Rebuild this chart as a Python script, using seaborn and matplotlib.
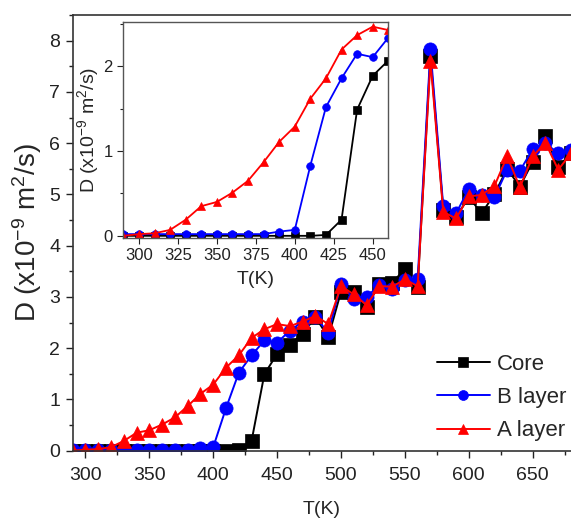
import numpy as np
import pandas as pd
import matplotlib
matplotlib.use("Agg")
import matplotlib.pyplot as plt
from matplotlib.ticker import MultipleLocator
import seaborn as sns

# ---- data ----
T = [290, 300, 310, 320, 330, 340, 350, 360, 370, 380, 390, 400, 410, 420, 430,
     440, 450, 460, 470, 480, 490, 500, 510, 520, 530, 540, 550, 560, 570, 580,
     590, 600, 610, 620, 630, 640, 650, 660, 670, 680]
core = [0, 0, 0, 0, 0, 0, 0, 0, 0, 0, 0, 0, 0, 0.01, 0.19, 1.49, 1.89, 2.07,
        2.28, 2.61, 2.21, 3.10, 3.10, 2.80, 3.25, 3.28, 3.54, 3.20, 7.70, 4.70,
        4.55, 4.95, 4.63, 5.00, 5.50, 5.15, 5.64, 6.13, 5.54, 5.80]
b_layer = [0.02, 0.02, 0.02, 0.02, 0.02, 0.02, 0.02, 0.02, 0.02, 0.02, 0.05, 0.07,
           0.83, 1.52, 1.86, 2.15, 2.11, 2.34,
           2.52, 2.61, 2.30, 3.25, 2.95, 3.00, 3.23, 3.15, 3.33, 3.35, 7.83, 4.77,
           4.63, 5.10, 4.99, 4.94, 5.48, 5.46, 5.88, 6.00, 5.80, 5.87]
a_layer = [0.0, 0.02, 0.03, 0.07, 0.19, 0.35, 0.40, 0.51, 0.65, 0.87, 1.11, 1.29,
           1.62, 1.86, 2.20, 2.37, 2.47, 2.43,
           2.52, 2.63, 2.47, 3.21, 3.05, 2.84, 3.21, 3.20, 3.34, 3.21, 7.60, 4.66,
           4.53, 4.96, 4.99, 5.16, 5.74, 5.14, 5.74, 6.01, 5.48, 5.80]
series_names = ["Core", "B layer", "A layer"]
series_vals = [core, b_layer, a_layer]
colors = ["#000000", "#0000ff", "#ff0000"]
markers = ["s", "o", "^"]
inset_max_T = 460

sns.set_style("ticks")
plt.rcParams["font.family"] = ["Liberation Sans", "DejaVu Sans"]
plt.rcParams["mathtext.fontset"] = "custom"
plt.rcParams["mathtext.rm"] = "Liberation Sans"
plt.rcParams["mathtext.it"] = "Liberation Sans:italic"

fig = plt.figure(figsize=(5.71, 5.22), dpi=100)
ax = fig.add_axes([0.1273, 0.1366, 0.8727, 0.8347])

ylab = r"D (x10$^{-9}$ m$^{2}$/s)"

for name, vals, c, m in zip(series_names, series_vals, colors, markers):
    df = pd.DataFrame({"T": T, "D": vals})
    sns.lineplot(data=df, x="T", y="D", ax=ax, color=c, marker=m, markersize=9.5,
                 markeredgecolor=c, markeredgewidth=0.5, linewidth=1.4, label=name)

ax.set_xlim(290, 680)
ax.set_ylim(0, 8.5)
ax.xaxis.set_major_locator(MultipleLocator(50))
ax.xaxis.set_minor_locator(MultipleLocator(25))
ax.yaxis.set_major_locator(MultipleLocator(1))
ax.yaxis.set_minor_locator(MultipleLocator(0.5))
ax.tick_params(axis="both", which="major", labelsize=14, length=5, width=1, colors="#222222")
ax.tick_params(axis="x", which="major", pad=7)
ax.tick_params(axis="y", which="major", pad=4)
ax.tick_params(axis="both", which="minor", length=3, width=1, colors="#222222")
ax.spines["right"].set_visible(False)
for s in ["left", "bottom", "top"]:
    ax.spines[s].set_color("#333333")
    ax.spines[s].set_linewidth(1.2)
ax.set_xlabel("T(K)", fontsize=14, labelpad=12)
ax.set_ylabel(ylab, fontsize=20, labelpad=4)

leg = ax.legend(loc="upper left", bbox_to_anchor=(0.765, 0.322),
                bbox_transform=fig.transFigure, frameon=False, fontsize=16,
                handlelength=2.4, handletextpad=0.3, labelspacing=0.55,
                borderpad=0, borderaxespad=0, markerscale=0.75)

# ---- inset ----
ins = fig.add_axes([0.216, 0.545, 0.464, 0.412])
for name, vals, c, m in zip(series_names, series_vals, colors, markers):
    df = pd.DataFrame({"T": T, "D": vals})
    df = df[df["T"] <= inset_max_T]
    sns.lineplot(data=df, x="T", y="D", ax=ins, color=c, marker=m, markersize=5.5,
                 markeredgecolor=c, markeredgewidth=0.5, linewidth=1.3, legend=False)
ins.set_xlim(290, 460)
ins.set_ylim(-0.02, 2.52)
ins.xaxis.set_major_locator(MultipleLocator(25))
ins.yaxis.set_major_locator(MultipleLocator(1))
ins.yaxis.set_minor_locator(MultipleLocator(0.5))
ins.tick_params(axis="both", which="major", labelsize=12, length=4, width=0.8, colors="#222222")
ins.tick_params(axis="both", which="minor", length=2.5, width=0.8, colors="#222222")
for s in ins.spines.values():
    s.set_color("#555555")
    s.set_linewidth(1.0)
ins.set_xlabel("T(K)", fontsize=14, labelpad=6)
ins.set_ylabel(ylab, fontsize=14, labelpad=2)

fig.savefig("out.png", dpi=100)
